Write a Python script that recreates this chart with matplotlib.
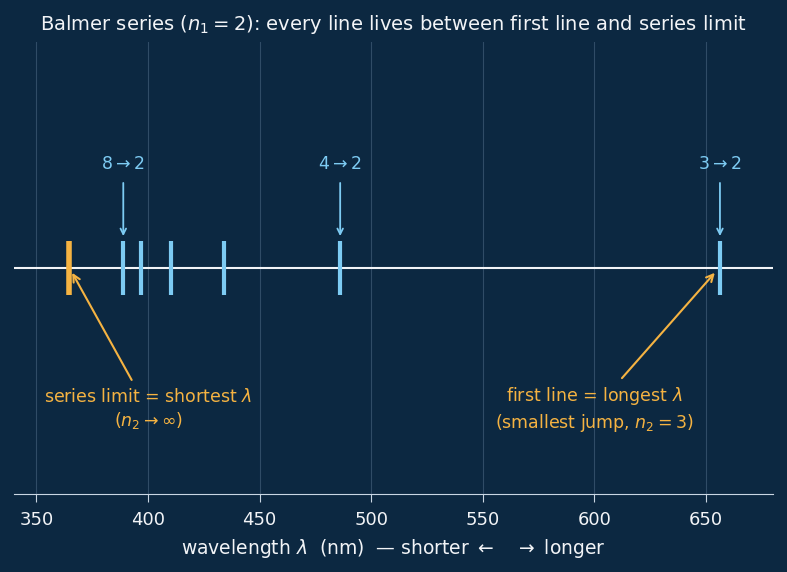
import matplotlib
matplotlib.use("Agg")
import matplotlib.pyplot as plt

# Balmer lines (nm), n2 = 3..8
n_upper = [3, 4, 5, 6, 7, 8]
wavelengths = [656.3, 486.1, 434.0, 410.2, 397.0, 388.9]
series_limit = 364.6
labeled = {8: "$8 \\rightarrow 2$", 4: "$4 \\rightarrow 2$", 3: "$3 \\rightarrow 2$"}
xticks = [350, 400, 450, 500, 550, 600, 650]

BG = "#0c2841"
BLUE = "#7dcbf3"
ORANGE = "#f5b342"
WHITE = "#f2f4f7"

fig = plt.figure(figsize=(7.87, 5.72), dpi=100, facecolor=BG)
ax = fig.add_axes([0.018, 0.136, 0.964, 0.79])
ax.set_facecolor(BG)

ax.set_xlim(340, 680)
ax.set_ylim(-1, 1)

ax.axhline(0, color=WHITE, lw=1.5, zorder=2)
for n, w in zip(n_upper, wavelengths):
    ax.vlines(w, -0.12, 0.12, color=BLUE, lw=3, zorder=3)
    if n in labeled:
        ax.annotate("", xy=(w, 0.13), xytext=(w, 0.39),
                    arrowprops=dict(arrowstyle="->", color=BLUE, lw=1.3))
        ax.text(w, 0.46, labeled[n], color=BLUE, ha="center", va="center", fontsize=12.5)

ax.vlines(series_limit, -0.12, 0.12, color=ORANGE, lw=4, zorder=3)

ax.annotate("series limit = shortest $\\lambda$\n($n_2 \\rightarrow \\infty$)",
            xy=(366, -0.02), xytext=(400, -0.625), color=ORANGE, fontsize=12.5,
            ha="center", va="center", linespacing=1.3,
            arrowprops=dict(arrowstyle="->", color=ORANGE, lw=1.5, shrinkA=4, shrinkB=0))
ax.annotate("first line = longest $\\lambda$\n(smallest jump, $n_2 = 3$)",
            xy=(654, -0.02), xytext=(600, -0.625), color=ORANGE, fontsize=12.5,
            ha="center", va="center", linespacing=1.3,
            arrowprops=dict(arrowstyle="->", color=ORANGE, lw=1.5, shrinkA=4, shrinkB=0))

ax.set_xticks(xticks)
ax.set_yticks([])
ax.grid(axis="x", color="#3a5670", lw=0.8, alpha=0.8)
ax.set_axisbelow(True)
for s in ["top", "left", "right"]:
    ax.spines[s].set_visible(False)
ax.spines["bottom"].set_color("#c9d6e3")
ax.tick_params(axis="x", colors="#c9d6e3", labelcolor=WHITE, labelsize=13, length=6, pad=6)

ax.set_xlabel("wavelength $\\lambda$  (nm)  — shorter $\\leftarrow$   $\\rightarrow$ longer",
              color=WHITE, fontsize=13.5, labelpad=6)
ax.set_title("Balmer series ($n_1 = 2$): every line lives between first line and series limit",
             color=WHITE, fontsize=14, pad=9)

fig.savefig("out.png", dpi=100, facecolor=BG)
